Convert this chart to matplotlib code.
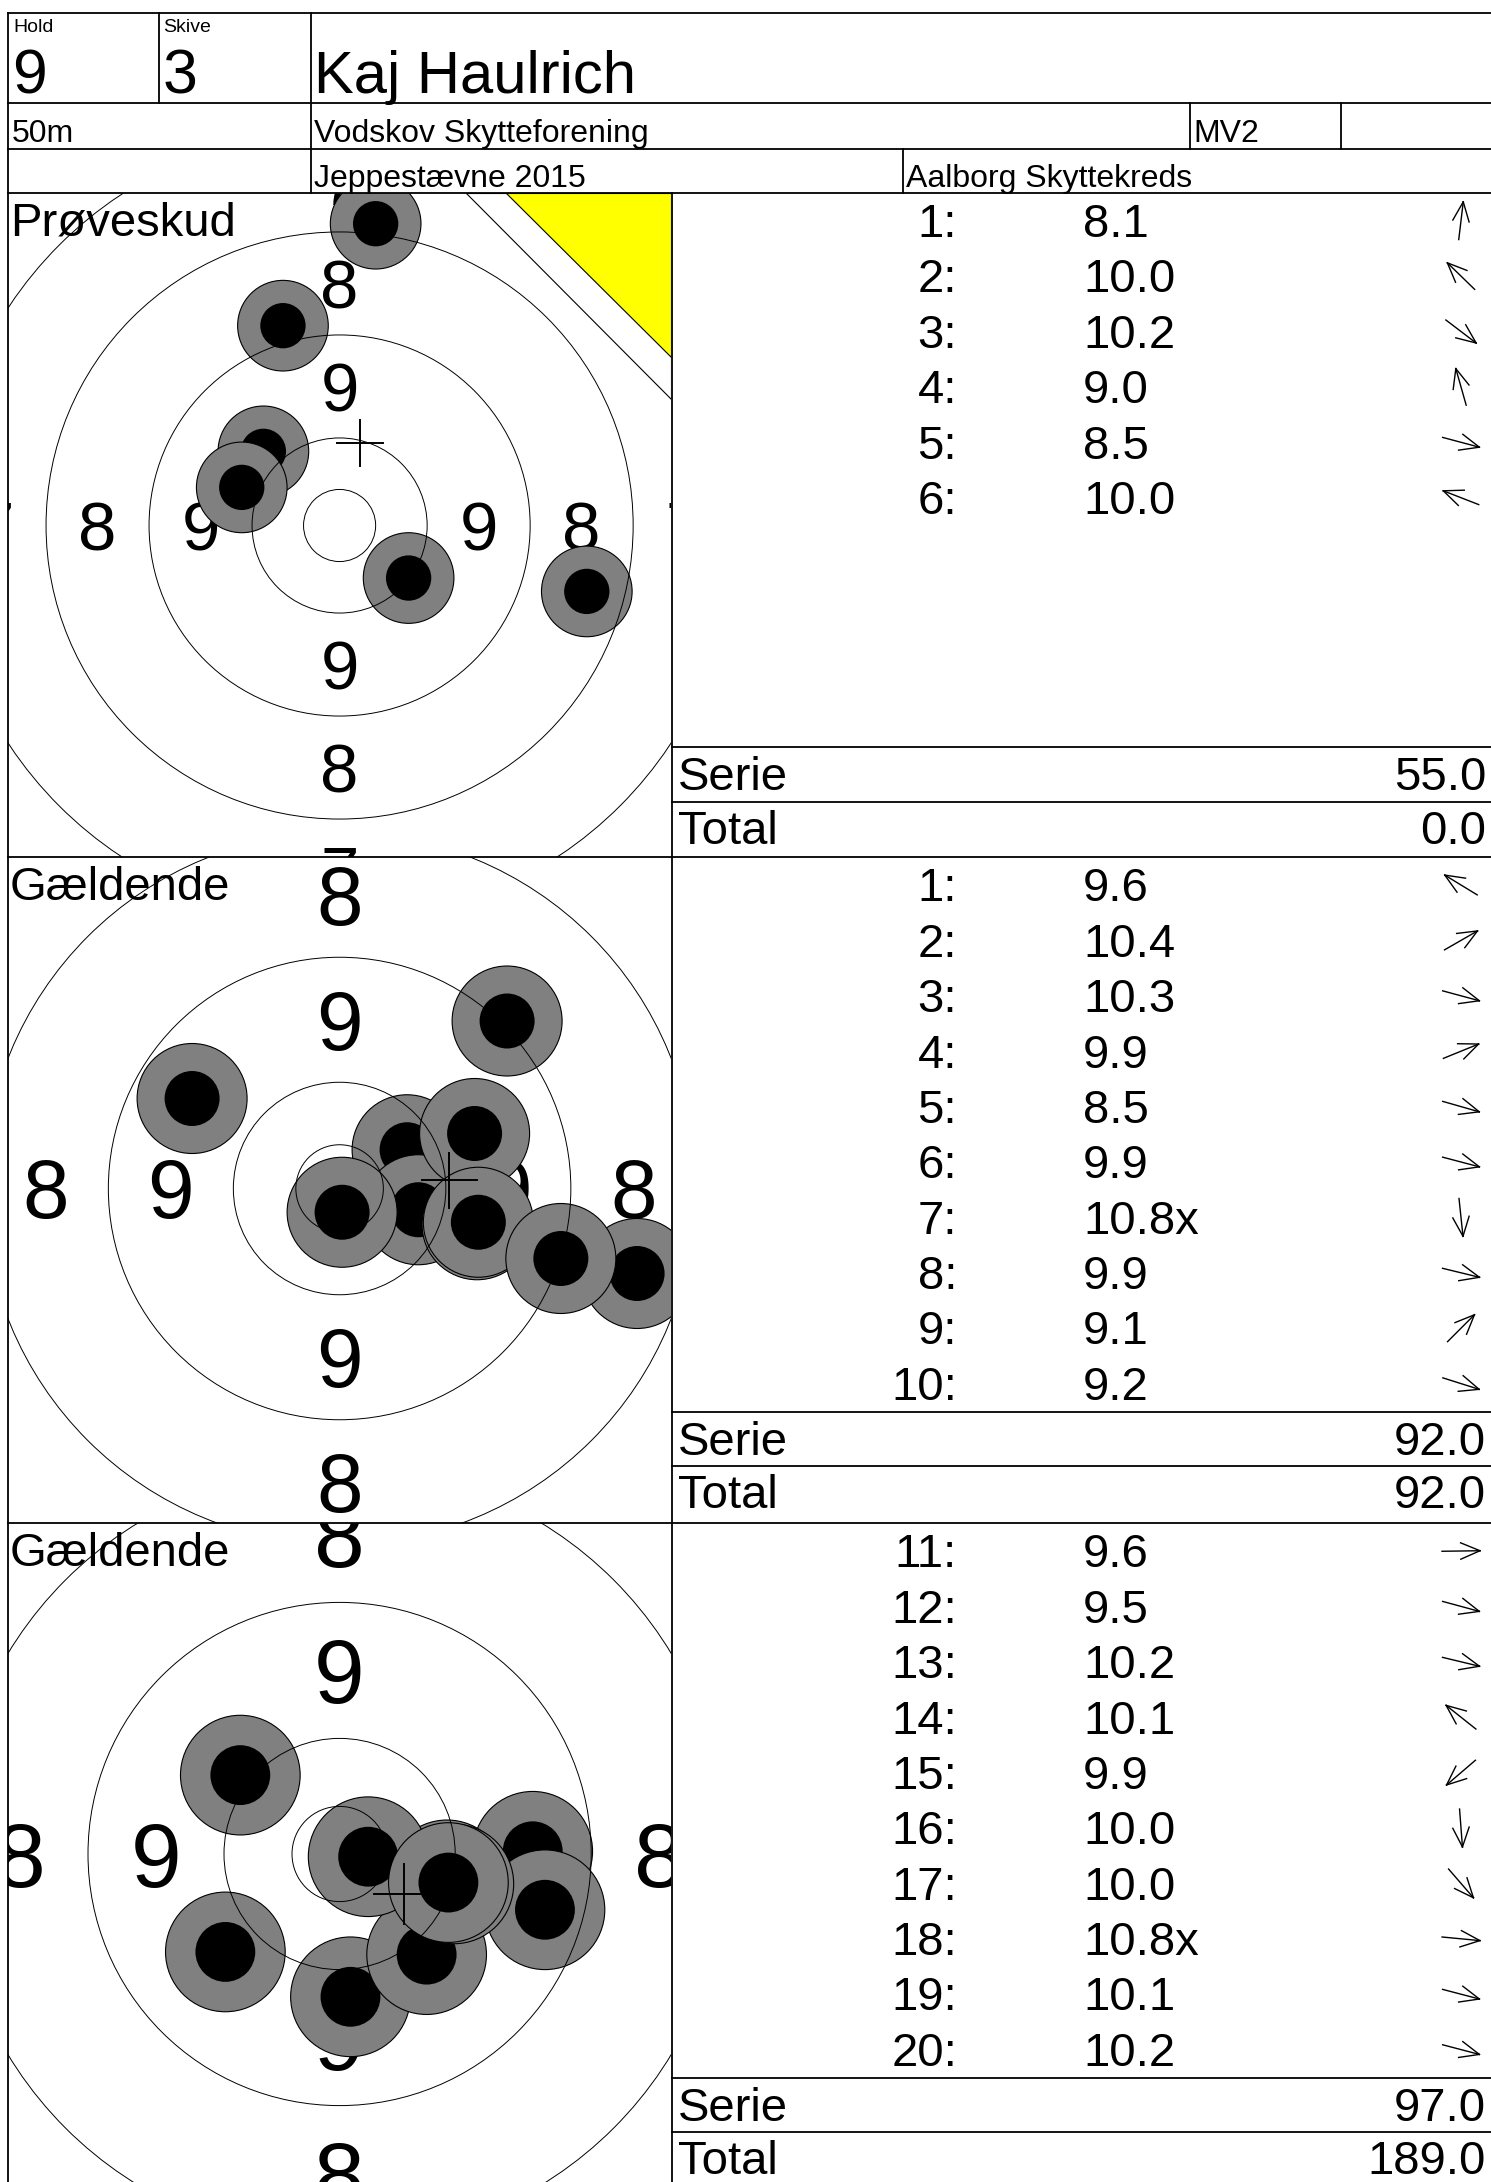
"""Shooting score card: three target panels with shot tables."""

import matplotlib

matplotlib.use("Agg")
import matplotlib.pyplot as plt  # noqa: E402
import numpy as np  # noqa: E402
from matplotlib.patches import Circle, Polygon  # noqa: E402

plt.rcParams["font.family"] = ["Liberation Sans", "DejaVu Sans"]

# header fields
hold = "9"
skive = "3"
shooter = "Kaj Haulrich"
distance = "50m"
club = "Vodskov Skytteforening"
shooter_class = "MV2"
event = "Jeppestævne 2015"
district = "Aalborg Skyttekreds"

# series (sighters first); shot positions in ring widths from the centre
series_titles = ["Prøveskud", "Gældende", "Gældende"]
series_counts = [False, True, True]
shot_numbers = [list(range(1, 7)), list(range(1, 11)), list(range(11, 21))]
scores = [
    [8.1, 10.0, 10.2, 9.0, 8.5, 10.0],
    [9.6, 10.4, 10.3, 9.9, 8.5, 9.9, 10.8, 9.9, 9.1, 9.2],
    [9.6, 9.5, 10.2, 10.1, 9.9, 10.0, 10.0, 10.8, 10.1, 10.2],
]
inner_tens = [[], [7], [18]]
shot_x = [
    [0.35, -0.74, 0.67, -0.55, 2.40, -0.95],
    [-1.18, 0.54, 0.63, 1.08, 2.38, 1.10, 0.02, 1.11, 1.34, 1.77],
    [1.42, 1.51, 0.79, -0.73, -0.84, 0.08, 0.64, 0.21, 0.84, 0.80],
]
shot_y = [
    [2.93, 0.72, -0.51, 1.94, -0.64, 0.37],
    [0.72, 0.31, -0.17, 0.44, -0.68, -0.29, -0.19, -0.27, 1.34, -0.56],
    [0.02, -0.41, -0.19, 0.58, -0.72, -1.05, -0.74, -0.02, -0.22, -0.21],
]

# target geometry (ring widths)
ring_radii = [0.35, 0.85, 1.85, 2.85, 3.85, 4.85]
ring_labels = [9, 8, 7, 6]
label_radii = [1.35, 2.35, 3.35, 4.35]
shot_r, core_r = 0.44, 0.22

# layout in pixels
W, H = 1491, 2182
X0, XT = 7.7, 671.5
panel_tops = [193, 857.3, 1523.3]
panel_bottoms = [857.3, 1523.3, 2189]
centres_y = [525.5, 1188.5, 1854]
px_per_ring = [103, 125, 136]
row_h = 55.4

fig = plt.figure(figsize=(W / 100, H / 100), dpi=100)
fig.patch.set_facecolor("white")

total = 0.0
panel_totals = []
for i in range(3):
    y0, y1, cy, ppu = panel_tops[i], panel_bottoms[i], centres_y[i], px_per_ring[i]
    cx = (X0 + XT) / 2
    ax = fig.add_axes([X0 / W, 1 - y1 / H, (XT - X0) / W, (y1 - y0) / H])
    ax.set_xlim(-(cx - X0) / ppu, (XT - cx) / ppu)
    ax.set_ylim(-(y1 - cy) / ppu, (cy - y0) / ppu)
    ax.axis("off")

    fs = 0.67 * ppu * 0.72
    for lab, r in zip(ring_labels, label_radii):
        for ux, uy in [(0, 1), (0, -1), (-1, 0), (1, 0)]:
            ax.text(ux * r, uy * r - 0.24, str(lab), ha="center", va="baseline",
                    fontsize=fs, clip_on=True, zorder=1)

    xs, ys = np.array(shot_x[i]), np.array(shot_y[i])
    for x, y in zip(xs, ys):
        ax.add_patch(Circle((x, y), shot_r, fc="#808080", ec="black", lw=0.8, zorder=2))
        ax.add_patch(Circle((x, y), core_r, fc="black", ec="none", zorder=2))

    for r in ring_radii:
        ax.add_patch(Circle((0, 0), r, fill=False, ec="black", lw=0.7, zorder=3))

    mx, my = xs.mean(), ys.mean()
    ax.plot([mx - 0.22, mx + 0.22], [my, my], color="black", lw=1.4, zorder=4)
    ax.plot([mx, mx], [my - 0.22, my + 0.22], color="black", lw=1.4, zorder=4)

    if not series_counts[i]:
        ax.add_patch(Polygon([(0.69, 1), (1, 1), (1, 0.69)], closed=True, transform=ax.transAxes,
                             fc="white", ec="black", lw=0.8, zorder=5))
        ax.add_patch(Polygon([(0.75, 1), (1, 1), (1, 0.753)], closed=True, transform=ax.transAxes,
                             fc="yellow", ec="black", lw=0.8, zorder=6))

    serie = float(sum(int(s) for s in scores[i]))
    if series_counts[i]:
        total += serie
    panel_totals.append((serie, total))

# overlay for the table lines and texts, in pixel coordinates
top = fig.add_axes([0, 0, 1, 1])
top.set_xlim(0, W)
top.set_ylim(H, 0)
top.axis("off")
top.patch.set_alpha(0)

lw = 1.3
for y in [12.7, 102.7, 148.7, 193]:
    top.plot([X0, W], [y, y], color="black", lw=lw)
top.plot([X0, X0], [12.7, H], color="black", lw=lw)
top.plot([XT, XT], [193, H], color="black", lw=lw)
top.plot([159, 159], [12.7, 102.7], color="black", lw=lw)
top.plot([311, 311], [12.7, 193], color="black", lw=lw)
top.plot([1190, 1190], [102.7, 148.7], color="black", lw=lw)
top.plot([1340.7, 1340.7], [102.7, 148.7], color="black", lw=lw)
top.plot([903, 903], [148.7, 193], color="black", lw=lw)

top.text(13, 32, "Hold", fontsize=14, va="baseline")
top.text(163, 32, "Skive", fontsize=14, va="baseline")
top.text(12, 93, hold, fontsize=45, va="baseline")
top.text(163, 93, skive, fontsize=45, va="baseline")
top.text(314, 93, shooter, fontsize=43, va="baseline")
top.text(12, 142, distance, fontsize=23, va="baseline")
top.text(314, 142, club, fontsize=23, va="baseline")
top.text(1193, 142, shooter_class, fontsize=23, va="baseline")
top.text(314, 187, event, fontsize=23, va="baseline")
top.text(906, 187, district, fontsize=23, va="baseline")

head_len, head_ang = 21, np.deg2rad(23)
for i in range(3):
    y0, y1 = panel_tops[i], panel_bottoms[i]
    serie_y = y0 + 10 * row_h + 0.3
    total_y = serie_y + 54.7
    top.plot([X0, W], [y1, y1], color="black", lw=lw)
    top.plot([XT, W], [serie_y, serie_y], color="black", lw=lw)
    top.plot([XT, W], [total_y, total_y], color="black", lw=lw)
    top.text(10, y0 + 43, series_titles[i], fontsize=34, va="baseline")

    for j, (n, s) in enumerate(zip(shot_numbers[i], scores[i])):
        yb = y0 + 44 + j * row_h
        top.text(957, yb, f"{n}:", fontsize=34, ha="right", va="baseline")
        lab = f"{s:.1f}" + ("x" if n in inner_tens[i] else "")
        top.text(1083, yb, lab, fontsize=34, ha="left", va="baseline")
        # direction arrow: from the target centre towards the shot
        dx, dy = shot_x[i][j], -shot_y[i][j]
        u = np.array([dx, dy]) / np.hypot(dx, dy)
        c = np.array([1461, y0 + 27.7 + j * row_h])
        tail, tip = c - 19 * u, c + 19 * u
        top.plot([tail[0], tip[0]], [tail[1], tip[1]], color="black", lw=1.0)
        for a in (head_ang, -head_ang):
            rot = np.array([[np.cos(a), -np.sin(a)], [np.sin(a), np.cos(a)]])
            end = tip - head_len * rot @ u
            top.plot([tip[0], end[0]], [tip[1], end[1]], color="black", lw=1.0)

    serie, tot = panel_totals[i]
    top.text(678, serie_y + 43, "Serie", fontsize=34, va="baseline")
    top.text(1486, serie_y + 43, f"{serie:.1f}", fontsize=34, ha="right", va="baseline")
    top.text(678, total_y + 42, "Total", fontsize=34, va="baseline")
    top.text(1486, total_y + 42, f"{tot:.1f}", fontsize=34, ha="right", va="baseline")

fig.savefig("out.png", dpi=100)
plt.close(fig)
